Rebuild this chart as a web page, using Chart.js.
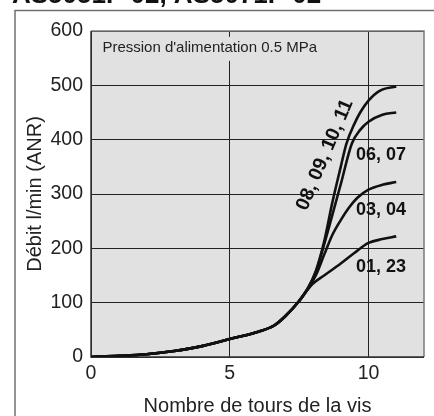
<!DOCTYPE html>
<html><head><meta charset="utf-8">
<script src="https://cdn.jsdelivr.net/npm/chart.js@4/dist/chart.umd.min.js"></script>
<style>html,body{margin:0;padding:0;background:#fff;}canvas{display:block}</style>
</head><body>
<canvas id="c" width="434" height="416"></canvas>
<script>
// ---- data ----
const xTicks = [0, 5, 10];
const yTicks = [0, 100, 200, 300, 400, 500, 600];
const baseTurns = [0, 1, 2, 3, 4, 5, 6, 6.6, 7, 7.5];
const baseFlow  = [0, 2, 5, 11, 20, 33, 46, 58, 75, 103];
const turns_08_11 = [7.8, 8.1, 8.4, 8.7, 9.0, 9.2, 9.5, 9.7, 10.0, 10.4, 11];
const flow_08_11  = [125, 158, 212, 285, 350, 392, 430, 450, 472, 490, 498];
const turns_06_07 = [7.8, 8.1, 8.4, 8.7, 9.0, 9.4, 9.7, 10.0, 10.5, 11];
const flow_06_07  = [125, 156, 207, 262, 318, 393, 418, 433, 446, 450];
const turns_03_04 = [7.8, 8.1, 8.4, 8.7, 9.0, 9.3, 9.6, 10.0, 10.5, 11];
const flow_03_04  = [125, 150, 188, 225, 252, 275, 293, 308, 317, 322];
const turns_01_23 = [7.75, 8.0, 8.4, 9.0, 9.5, 10.0, 10.5, 11];
const flow_01_23  = [120, 135, 150, 172, 192, 210, 217, 222];
const seriesNames = ['08, 09, 10, 11', '06, 07', '03, 04', '01, 23'];

const titleText = 'AS5051F-02, AS5071F-02';
const noteText = "Pression d'alimentation 0.5 MPa";
const xTitle = 'Nombre de tours de la vis';
const yTitle = 'Débit l/min (ANR)';

// label anchors (data coordinates)
const labelCfg = [
  {text: seriesNames[0], x: 8.43, y: 372, rot: -67, size: 19.5},
  {text: seriesNames[1], x: 10.45, y: 372, rot: 0, size: 18},
  {text: seriesNames[2], x: 10.45, y: 270, rot: 0, size: 18},
  {text: seriesNames[3], x: 10.45, y: 166, rot: 0, size: 18}
];
const noteCfg = {x: 0.41, y: 569};

function build(tx, fy) {
  return baseTurns.map((t, i) => ({x: t, y: baseFlow[i]}))
    .concat(tx.map((t, i) => ({x: t, y: fy[i]})));
}
const allSeries = [[turns_08_11, flow_08_11], [turns_06_07, flow_06_07], [turns_03_04, flow_03_04], [turns_01_23, flow_01_23]];

const FONT = '"Liberation Sans", Arial, Helvetica, sans-serif';

const deco = {
  id: 'deco',
  beforeDraw(chart) {
    const {ctx, chartArea: a} = chart;
    ctx.save();
    ctx.fillStyle = '#fff';
    ctx.fillRect(0, 0, chart.width, chart.height);
    ctx.fillStyle = '#111';
    ctx.font = 'bold 26px ' + FONT;
    ctx.textBaseline = 'alphabetic';
    ctx.textAlign = 'left';
    ctx.fillText(titleText, 12, 3);
    ctx.strokeStyle = '#707070';
    ctx.lineWidth = 1.5;
    ctx.beginPath();
    ctx.moveTo(15, chart.height);
    ctx.lineTo(15, 10.5);
    ctx.lineTo(chart.width, 10.5);
    ctx.stroke();
    ctx.fillStyle = '#e1e1e1';
    ctx.fillRect(a.left, a.top, a.right - a.left, a.bottom - a.top);
    ctx.restore();
  },
  beforeDatasetsDraw(chart) {
    const {ctx, chartArea: a, scales} = chart;
    ctx.save();
    ctx.font = '15px ' + FONT;
    const w = ctx.measureText(noteText).width;
    const px = scales.x.getPixelForValue(noteCfg.x);
    const py = scales.y.getPixelForValue(noteCfg.y);
    ctx.fillStyle = '#e1e1e1';
    ctx.fillRect(px - 6, py - 11, w + 12, 24);
    ctx.fillStyle = '#222';
    ctx.textBaseline = 'middle';
    ctx.textAlign = 'left';
    ctx.fillText(noteText, px, py);
    ctx.lineWidth = 1.5;
    ctx.strokeStyle = '#7a7a7a';
    ctx.beginPath();
    ctx.moveTo(a.left, a.top);
    ctx.lineTo(a.right, a.top);
    ctx.lineTo(a.right, a.bottom);
    ctx.stroke();
    ctx.strokeStyle = '#333';
    ctx.beginPath();
    ctx.moveTo(a.left, a.top);
    ctx.lineTo(a.left, a.bottom);
    ctx.lineTo(a.right, a.bottom);
    ctx.stroke();
    ctx.restore();
  },
  afterDatasetsDraw(chart) {
    const {ctx, scales} = chart;
    ctx.save();
    ctx.fillStyle = '#111';
    ctx.textAlign = 'center';
    ctx.textBaseline = 'middle';
    labelCfg.forEach(l => {
      const px = scales.x.getPixelForValue(l.x);
      const py = scales.y.getPixelForValue(l.y);
      ctx.save();
      ctx.font = 'bold ' + l.size + 'px ' + FONT;
      ctx.translate(px, py);
      ctx.rotate(l.rot * Math.PI / 180);
      ctx.fillText(l.text, 0, 0);
      ctx.restore();
    });
    ctx.restore();
  }
};

new Chart(document.getElementById('c'), {
  type: 'line',
  data: {
    datasets: allSeries.map((s, i) => ({
      label: seriesNames[i],
      data: build(s[0], s[1]),
      borderColor: '#111',
      borderWidth: 2.6,
      pointRadius: 0,
      fill: false,
      cubicInterpolationMode: 'monotone'
    }))
  },
  options: {
    responsive: false,
    devicePixelRatio: 1,
    animation: false,
    layout: {padding: {top: 31, right: 10, left: 0, bottom: 0}},
    plugins: {legend: {display: false}, tooltip: {enabled: false}},
    scales: {
      x: {
        type: 'linear', min: 0, max: 12,
        afterBuildTicks: s => { s.ticks = xTicks.map(v => ({value: v})); },
        afterFit: s => { s.height = 59; },
        grid: {color: '#222', lineWidth: 1, drawTicks: false},
        border: {display: false},
        ticks: {color: '#222', font: {family: FONT, size: 19.5}, padding: 5, maxRotation: 0},
        title: {display: true, text: xTitle, color: '#222', font: {family: FONT, size: 20, lineHeight: 1}, padding: {top: 0, bottom: 0}}
      },
      y: {
        min: 0, max: 600,
        afterBuildTicks: s => { s.ticks = yTicks.map(v => ({value: v})); },
        afterFit: s => { s.width = 91; },
        grid: {color: '#222', lineWidth: 1, drawTicks: false},
        border: {display: false},
        ticks: {color: '#222', font: {family: FONT, size: 19.5}, padding: 8},
        title: {display: true, text: yTitle, color: '#222', font: {family: FONT, size: 20, lineHeight: 1}, padding: {top: 25, bottom: 0}}
      }
    }
  },
  plugins: [deco]
});
</script>
</body></html>
